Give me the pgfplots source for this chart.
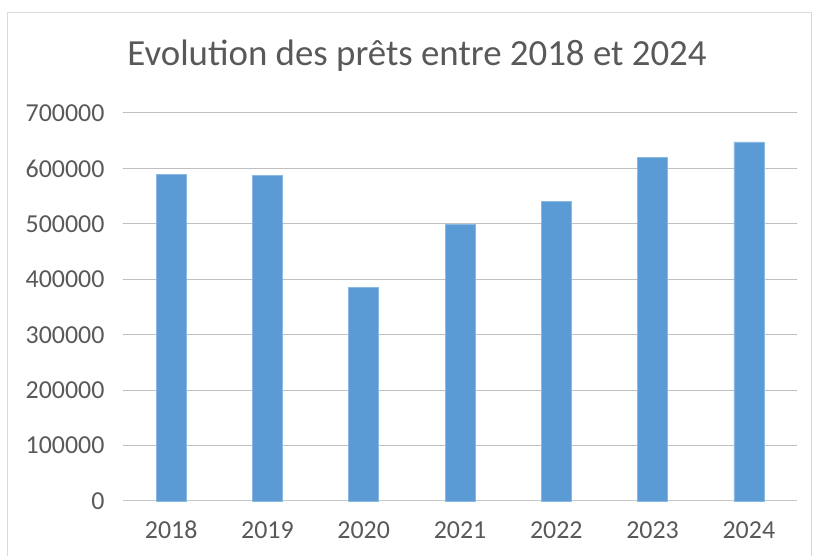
\documentclass[border=0pt]{standalone}
\usepackage{fontspec}
\setmainfont{Carlito}
\usepackage{pgfplots}
\pgfplotsset{compat=1.18}
\definecolor{barblue}{HTML}{5B9BD5}
\definecolor{txt}{HTML}{595959}
\definecolor{grid}{HTML}{D9D9D9}
\begin{document}
\begin{tikzpicture}[x=1bp,y=1bp]
\useasboundingbox (0,0) rectangle (816,556);
\draw[grid, line width=1bp] (7,-10) rectangle (811,543);
\node[txt, font=\fontsize{37}{40}\selectfont, anchor=base] at (417,490) {Evolution des prêts entre 2018 et 2024};
\begin{axis}[
  at={(123bp,55bp)}, anchor=south west,
  scale only axis, width=674bp, height=388bp,
  xmin=-0.5, xmax=6.5, ymin=0, ymax=700000,
  ybar, bar width=30bp,
  xtick={0,1,2,3,4,5,6},
  xticklabels={2018,2019,2020,2021,2022,2023,2024},
  ytick={0,100000,200000,300000,400000,500000,600000,700000},
  scaled y ticks=false,
  yticklabel style={/pgf/number format/fixed, /pgf/number format/1000 sep={}},
  /pgf/number format/assume math mode=true,
  ticklabel style={font=\fontsize{26}{28}\selectfont, text=txt},
  xmajorgrids=false, ymajorgrids, grid style={grid, line width=1bp},
  axis lines*=left,
  x axis line style={draw=grid!80!gray, line width=1bp, -},
  y axis line style={draw=none},
  major tick length=0pt,
  yticklabel style={xshift=-15bp},
  xticklabel style={yshift=-17bp, text height=17bp, text depth=0bp},
  tick style={draw=none},
  clip=false,
]
\addplot[fill=barblue, draw=barblue!70!white, line width=0.5bp] coordinates {
  (0,588600) (1,587400) (2,385000) (3,499000) (4,540500) (5,619800) (6,648000)
};
\end{axis}
\end{tikzpicture}
\end{document}
